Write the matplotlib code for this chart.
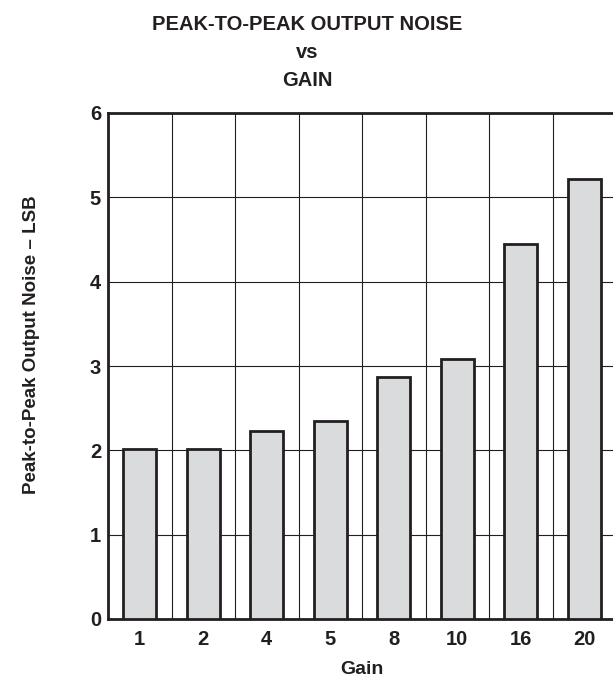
import matplotlib
matplotlib.use("Agg")
import matplotlib.pyplot as plt
import numpy as np

gains = ["1", "2", "4", "5", "8", "10", "16", "20"]
noise = [2.01, 2.02, 2.23, 2.35, 2.87, 3.08, 4.45, 5.22]
yticks = [0, 1, 2, 3, 4, 5, 6]

plt.rcParams['font.family'] = ['Liberation Sans', 'DejaVu Sans']
plt.rcParams['font.weight'] = 'bold'

W, H = 613, 682
fig = plt.figure(figsize=(W / 100, H / 100), dpi=100)
L, R, T, B = 108, 616, 113, 619
ax = fig.add_axes([L / W, (H - B) / H, (R - L) / W, (B - T) / H])

dark = "#231f20"
x = np.arange(len(gains))
ax.bar(x, noise, width=0.52, color="#dadbdc", edgecolor=dark, linewidth=2.0, zorder=3)

ax.set_xlim(-0.5, len(gains) - 0.5)
ax.set_ylim(0, 6)
ax.set_yticks(yticks)
ax.set_yticklabels([str(v) for v in yticks], fontsize=14.5, fontweight='bold', color=dark)
ax.set_xticks(x)
ax.set_xticklabels(gains, fontsize=14.5, fontweight='bold', color=dark)
ax.set_xticks(np.arange(len(gains) + 1) - 0.5, minor=True)
ax.tick_params(axis='both', which='both', length=0)
ax.tick_params(axis='y', pad=5)
ax.tick_params(axis='x', pad=8)

ax.grid(True, axis='y', which='major', color=dark, linewidth=0.8, zorder=1)
ax.grid(True, axis='x', which='minor', color=dark, linewidth=0.8, zorder=1)
ax.set_axisbelow(True)

for s in ['left', 'bottom', 'top']:
    ax.spines[s].set_linewidth(2.0)
    ax.spines[s].set_color(dark)
ax.spines['right'].set_visible(False)

fig.text(362 / W, 1 - 670 / H, "Gain", ha='center', va='center', fontsize=14,
         fontweight='bold', color=dark)
fig.text(32 / W, 1 - 345 / H, "Peak-to-Peak Output Noise \u2013 LSB", ha='center', va='center',
         rotation=90, fontsize=13.5, fontweight='bold', color=dark)

fig.text(307 / W, 1 - 30 / H, "PEAK-TO-PEAK OUTPUT NOISE", ha='center', va='baseline',
         fontsize=14.5, fontweight='bold', color=dark)
fig.text(307 / W, 1 - 58 / H, "vs", ha='center', va='baseline',
         fontsize=14.5, fontweight='bold', color=dark)
fig.text(307 / W, 1 - 86 / H, "GAIN", ha='center', va='baseline',
         fontsize=14.5, fontweight='bold', color=dark)

fig.savefig("out.png", dpi=100)
